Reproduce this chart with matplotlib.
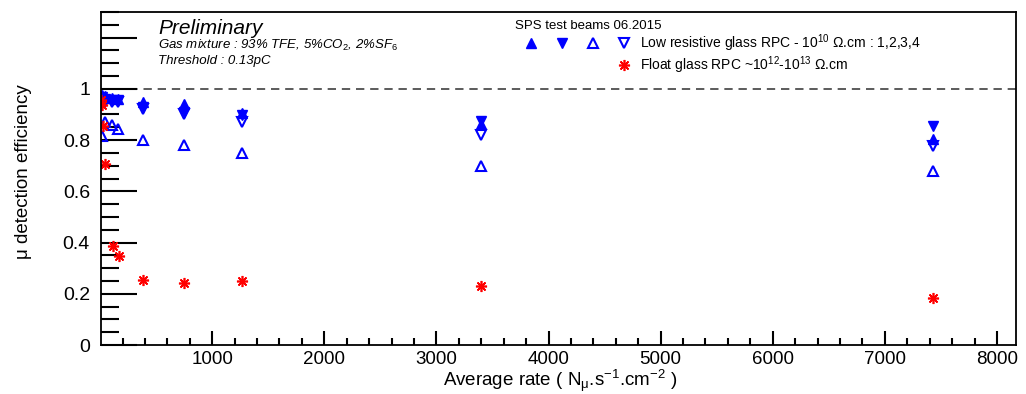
import numpy as np
import matplotlib
matplotlib.use("Agg")
import matplotlib.pyplot as plt
from matplotlib.lines import Line2D
from matplotlib.legend_handler import HandlerTuple
from matplotlib.ticker import MultipleLocator, FixedLocator, FixedFormatter

plt.rcParams['font.family'] = ['Liberation Sans', 'DejaVu Sans']
plt.rcParams['mathtext.fontset'] = 'custom'
plt.rcParams['mathtext.rm'] = 'Liberation Sans'
plt.rcParams['mathtext.it'] = 'Liberation Sans:italic'
plt.rcParams['mathtext.bf'] = 'Liberation Sans:bold'

# low resistive glass RPCs (1,2,3,4), rate in Hz/cm2
rate_lr = [15, 45, 110, 160, 380, 750, 1265, 3400, 7430]
eff_rpc1 = [0.975, 0.972, 0.965, 0.960, 0.950, 0.940, 0.905, 0.862, 0.805]
eff_rpc2 = [0.968, 0.962, 0.957, 0.955, 0.928, 0.910, 0.898, 0.875, 0.855]
eff_rpc3 = [0.816, 0.872, 0.858, 0.845, 0.800, 0.780, 0.751, 0.700, 0.681]
eff_rpc4 = [0.955, 0.950, 0.950, 0.950, 0.920, 0.900, 0.872, 0.820, 0.775]

# float glass RPC
rate_float = [10, 15, 25, 45, 117, 168, 380, 751, 1265, 3400, 7430]
eff_float = [0.955, 0.935, 0.855, 0.707, 0.387, 0.348, 0.254, 0.243, 0.250, 0.230, 0.185]

blue = '#0000ff'
red = '#ff0000'

fig = plt.figure(figsize=(10.26, 3.94), dpi=100)
ax = fig.add_axes([101/1026, 49/394, 915/1026, 333/394])

ax.axhline(1.0, color='0.25', lw=1.2, ls=(0, (5, 3.5)), zorder=1)

h1, = ax.plot(rate_lr, eff_rpc1, ls='none', marker='^', ms=7, color=blue, mec=blue)
h2, = ax.plot(rate_lr, eff_rpc2, ls='none', marker='v', ms=7, color=blue, mec=blue)
h3, = ax.plot(rate_lr, eff_rpc3, ls='none', marker='^', ms=7, mfc='none', mec=blue, mew=1.5)
h4, = ax.plot(rate_lr, eff_rpc4, ls='none', marker='v', ms=7, mfc='none', mec=blue, mew=1.5)
h5, = ax.plot(rate_float, eff_float, ls='none', marker=(8, 2, 0), ms=8, mec=red, mew=1.2)

ax.set_xlim(8, 8170)
ax.set_ylim(0, 1.3)

ax.xaxis.set_major_locator(MultipleLocator(1000))
ax.xaxis.set_minor_locator(MultipleLocator(200))
yt = [0, 0.2, 0.4, 0.6, 0.8, 1.0, 1.2]
ax.yaxis.set_major_locator(FixedLocator(yt))
ax.yaxis.set_major_formatter(FixedFormatter(['0', '0.2', '0.4', '0.6', '0.8', '1', '']))
ax.yaxis.set_minor_locator(MultipleLocator(0.05))

ax.tick_params(axis='both', which='both', direction='in', top=False, right=False, width=1.5, labelsize=14)
ax.tick_params(axis='x', which='major', length=10, pad=4, labelsize=13.5)
ax.tick_params(axis='x', which='minor', length=5)
ax.tick_params(axis='y', which='major', length=26, pad=8)
ax.tick_params(axis='y', which='minor', length=13)
for s in ax.spines.values():
    s.set_linewidth(1.3)

ax.set_xlabel(r'Average rate ( N$_{\mathrm{\mu}}$.s$^{-1}$.cm$^{-2}$ )', fontsize=13.5, va='center')
ax.xaxis.set_label_coords(0.5016, -0.108)
ax.set_ylabel('μ detection efficiency', fontsize=13.5)
ax.yaxis.set_label_coords(-0.0755, 0.52)

fig.text(158/1026, 1 - 29/394, 'Preliminary', fontsize=15, style='italic', va='center')
fig.text(158/1026, 1 - 45/394, r'Gas mixture : 93% TFE, 5%CO$_2$, 2%SF$_6$', fontsize=9.5, style='italic', va='center')
fig.text(158/1026, 1 - 61/394, 'Threshold : 0.13pC', fontsize=9.5, style='italic', va='center')

blank = Line2D([], [], ls='none', marker='None')
ax.legend([(h1, h2, h3, h4), (blank, blank, blank, h5)],
          [r'Low resistive glass RPC - 10$^{10}$ Ω.cm : 1,2,3,4',
           r'Float glass RPC ~10$^{12}$-10$^{13}$ Ω.cm'],
          handler_map={tuple: HandlerTuple(ndivide=None, pad=0)},
          title='SPS test beams 06.2015', alignment='left',
          fontsize=10, title_fontsize=9.5, frameon=False,
          handlelength=9.0, handletextpad=0.0, borderpad=0, borderaxespad=0,
          labelspacing=0.02, loc='upper left',
          bbox_to_anchor=(515/1026, 1 - 20/394), bbox_transform=fig.transFigure)

fig.savefig('out.png', dpi=100)
